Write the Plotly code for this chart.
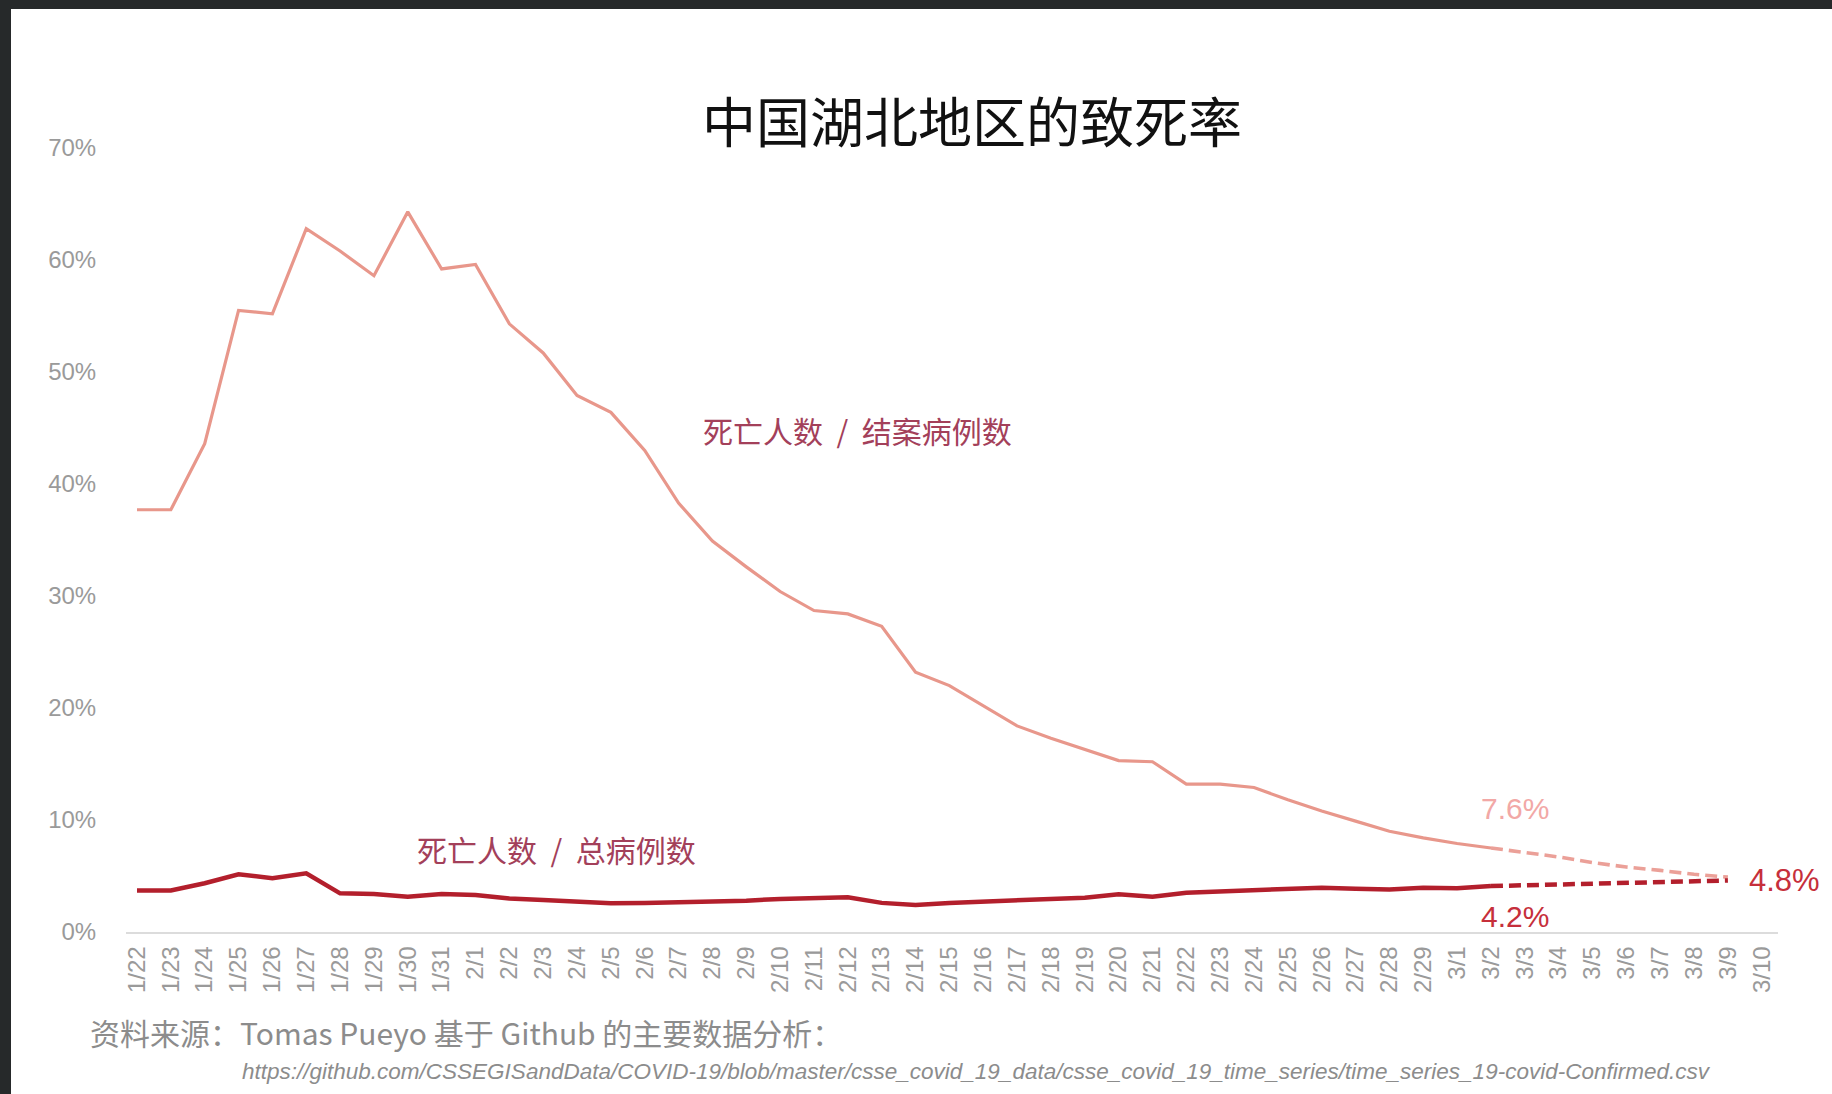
import plotly.graph_objects as go

# x categories
dates = ["1/%d" % d for d in range(22, 32)] + ["2/%d" % d for d in range(1, 30)] + ["3/%d" % d for d in range(1, 11)]

# deaths / closed cases (%), 1/22 .. 3/2
closed_rate = [37.7, 37.7, 43.6, 55.5, 55.2, 62.8, 60.8, 58.6, 64.3, 59.2,
               59.6, 54.3, 51.7, 47.9, 46.4, 43.0, 38.3, 34.9, 32.6, 30.4,
               28.7, 28.4, 27.3, 23.2, 22.0, 20.2, 18.4, 17.3, 16.3, 15.3,
               15.2, 13.2, 13.2, 12.9, 11.8, 10.8, 9.9, 9.0, 8.4, 7.9, 7.5]
# projection 3/2 .. 3/9
closed_proj = [7.5, 7.1, 6.7, 6.2, 5.8, 5.5, 5.15, 4.9]

# deaths / total cases (%), 1/22 .. 3/2
total_rate = [3.7, 3.7, 4.35, 5.15, 4.8, 5.24, 3.45, 3.4, 3.15, 3.4,
              3.3, 3.0, 2.86, 2.74, 2.56, 2.6, 2.65, 2.74, 2.8, 2.95,
              3.06, 3.1, 2.6, 2.4, 2.6, 2.7, 2.83, 2.92, 3.06, 3.36,
              3.15, 3.5, 3.6, 3.8, 3.9, 3.96, 3.87, 3.8, 3.96, 3.9, 4.1]
total_proj = [4.1, 4.17, 4.2, 4.25, 4.35, 4.4, 4.5, 4.6]

yticks = [0, 10, 20, 30, 40, 50, 60, 70]

W, H = 1832, 1094
ML, MR, MT, MB = 126, 54, 148, 162
PW, PH = W - ML - MR, H - MT - MB

LIGHT = "#E8978B"
DARK = "#B31F2C"
CJK = "Noto Sans CJK SC"
LAT = "Liberation Sans, Arial, sans-serif"

n_act = len(closed_rate)
proj_x = dates[n_act - 1:n_act - 1 + len(closed_proj)]

fig = go.Figure()
fig.add_trace(go.Scatter(x=dates[:n_act], y=closed_rate, mode="lines",
                         line=dict(color=LIGHT, width=3.2)))
fig.add_trace(go.Scatter(x=proj_x, y=closed_proj, mode="lines",
                         line=dict(color="#EBA098", width=3.6, dash="12px,6px")))
fig.add_trace(go.Scatter(x=dates[:n_act], y=total_rate, mode="lines",
                         line=dict(color=DARK, width=4.5)))
fig.add_trace(go.Scatter(x=proj_x, y=total_proj, mode="lines",
                         line=dict(color=DARK, width=4.5, dash="12px,6px")))

anns = [
    dict(x=21.3, y=44.8, text="死亡人数\u00a0\u00a0/\u00a0\u00a0结案病例数",
         font=dict(family=CJK, size=30, color="#A3405A")),
    dict(x=12.4, y=7.4, text="死亡人数\u00a0\u00a0/\u00a0\u00a0总病例数",
         font=dict(family=CJK, size=30, color="#A3405A")),
    dict(x=40.7, y=11.0, text="7.6%", font=dict(family=LAT, size=30, color="#F2A8A6")),
    dict(x=40.7, y=1.35, text="4.2%", font=dict(family=LAT, size=30, color="#C62F3B")),
]
for a in anns:
    a.update(xref="x", yref="y", showarrow=False, xanchor="center", yanchor="middle")

# paper coords from pixel positions (for things outside the axis range)
def px(x):
    return (x - ML) / PW

def py(y):
    return (H - MB - y) / PH

anns.append(dict(xref="paper", yref="paper", x=px(1747), y=py(880), xanchor="left", yanchor="middle",
                 showarrow=False, text="4.8%", font=dict(family=LAT, size=31, color="#C62F3B")))
anns.append(dict(xref="paper", yref="paper", x=px(88), y=py(1032), xanchor="left", yanchor="middle",
                 showarrow=False, text="资料来源：Tomas Pueyo 基于 Github 的主要数据分析：",
                 font=dict(family=CJK, size=30, color="#8C8C8C")))
anns.append(dict(xref="paper", yref="paper", x=px(240), y=py(1071), xanchor="left", yanchor="middle",
                 showarrow=False,
                 text="<i>https://github.com/CSSEGISandData/COVID-19/blob/master/csse_covid_19_data/csse_covid_19_time_series/time_series_19-covid-Confirmed.csv</i>",
                 font=dict(family=LAT, size=22.5, color="#8C8C8C")))

# dark screenshot edges
shapes = [
    dict(type="rect", xref="paper", yref="paper", x0=px(0), x1=px(W), y0=py(9), y1=py(0),
         fillcolor="#26292A", line=dict(width=0), layer="above"),
    dict(type="rect", xref="paper", yref="paper", x0=px(0), x1=px(11), y0=py(H), y1=py(0),
         fillcolor="#26292A", line=dict(width=0), layer="above"),
]

fig.update_layout(
    width=W, height=H,
    margin=dict(l=ML, r=MR, t=MT, b=MB),
    paper_bgcolor="white", plot_bgcolor="white",
    showlegend=False,
    title=dict(text="中国湖北地区的致死率", x=972 / W, xanchor="center",
               y=1 - 124 / H, yanchor="middle",
               font=dict(family=CJK, size=54, color="#111111")),
    annotations=anns,
    shapes=shapes,
)
fig.update_xaxes(type="category", categoryorder="array", categoryarray=dates,
                 tickmode="array", tickvals=dates, ticktext=dates,
                 range=[-0.325, 48.48], tickangle=-90,
                 showline=True, linecolor="#DCDCDC", linewidth=1.5,
                 showgrid=False, zeroline=False,
                 ticks="outside", ticklen=3, tickcolor="rgba(0,0,0,0)",
                 tickfont=dict(family=LAT, size=24, color="#9A9A9A"))
fig.update_yaxes(range=[0, 70], tickmode="array", tickvals=yticks,
                 ticktext=["%d%%" % v for v in yticks],
                 showgrid=False, zeroline=False, showline=False,
                 ticks="outside", ticklen=24, tickcolor="rgba(0,0,0,0)",
                 tickfont=dict(family=LAT, size=24, color="#9A9A9A"))

# page body has a default 8px margin; drop it so the figure fills the window
fig.write_html("out.html", config={"displayModeBar": False},
               post_script="document.body.style.margin='0';document.body.style.overflow='hidden';")
